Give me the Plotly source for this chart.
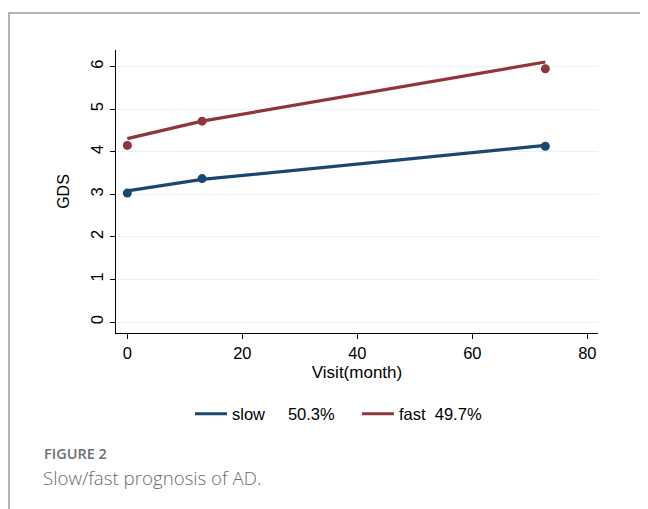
import plotly.graph_objects as go

# ---- data ----
visit = [0, 13, 72.7]
slow_obs = [3.03, 3.37, 4.13]
fast_obs = [4.15, 4.72, 5.95]
slow_fit = [3.08, 3.35, 4.15]
fast_fit = [4.31, 4.72, 6.11]
x_ticks = [0, 20, 40, 60, 80]
y_ticks = [0, 1, 2, 3, 4, 5, 6]
slow_label = "slow\u00a0\u00a0\u00a0\u00a0\u00a050.3%"
fast_label = "fast\u00a0\u00a049.7%"

# the page body has an 8px margin, so the figure starts at (8, 8) in the window
OFF = 8
W, H = 648 - OFF, 509 - OFF
NAVY = "#1a476f"
MAROON = "#90353b"
FONT = "Liberation Sans, Arial, sans-serif"


def px(x):
    return (x - OFF) / W


def py(y):
    return 1 - (y - OFF) / H


fig = go.Figure()
fig.add_trace(go.Scatter(x=visit, y=slow_fit, mode="lines", name=slow_label,
                         line=dict(color=NAVY, width=3.2)))
fig.add_trace(go.Scatter(x=visit, y=fast_fit, mode="lines", name=fast_label,
                         line=dict(color=MAROON, width=3.2)))
fig.add_trace(go.Scatter(x=visit, y=slow_obs, mode="markers", showlegend=False,
                         marker=dict(color=NAVY, size=9)))
fig.add_trace(go.Scatter(x=visit, y=fast_obs, mode="markers", showlegend=False,
                         marker=dict(color=MAROON, size=9)))

fig.update_layout(
    width=W, height=H,
    margin=dict(l=0, r=0, t=0, b=0),
    paper_bgcolor="white", plot_bgcolor="white",
    font=dict(family=FONT, color="black", size=16),
    xaxis=dict(domain=[px(116), px(598)], range=[-1.97, 81.86],
               tickvals=x_ticks, ticks="outside", ticklen=5, tickcolor="black",
               showline=True, linecolor="black", linewidth=1, showgrid=False,
               zeroline=False, tickfont=dict(size=16.5),
               title=dict(text="Visit(month)", font=dict(size=17), standoff=5)),
    yaxis=dict(domain=[py(333), py(50)], range=[-0.258, 6.392],
               tickvals=y_ticks, ticks="outside", ticklen=5, tickcolor="black",
               tickangle=-90,
               showline=True, linecolor="black", linewidth=1,
               showgrid=True, gridcolor="#eaf2f3", gridwidth=1,
               zeroline=False, tickfont=dict(size=16.5),
               title=dict(text="GDS", font=dict(size=16), standoff=14)),
    legend=dict(orientation="h", x=px(190), xanchor="left", y=py(414), yanchor="middle",
                font=dict(size=16.5), bgcolor="rgba(0,0,0,0)", itemwidth=32,
                entrywidth=120),
    showlegend=True,
)

# frame border of the figure panel
fig.add_shape(type="path", xref="paper", yref="paper",
              path=f"M {px(9)},{py(H + 20)} L {px(9)},{py(13)} L {px(W + 20)},{py(13)}",
              line=dict(color="#9a9a9a", width=1.5))

fig.add_annotation(xref="paper", yref="paper", x=px(42), y=py(453), xanchor="left",
                   yanchor="middle", showarrow=False, text="FIGURE 2",
                   font=dict(family="Open Sans, Lato, sans-serif", size=14.5,
                             color="#6e6e6e", weight=600))
fig.add_annotation(xref="paper", yref="paper", x=px(41), y=py(477), xanchor="left",
                   yanchor="middle", showarrow=False, text="Slow/fast prognosis of AD.",
                   font=dict(family="Open Sans, Lato, sans-serif", size=18.7,
                             color="#6a6a6a", weight=300))

fig.write_html("out.html")
